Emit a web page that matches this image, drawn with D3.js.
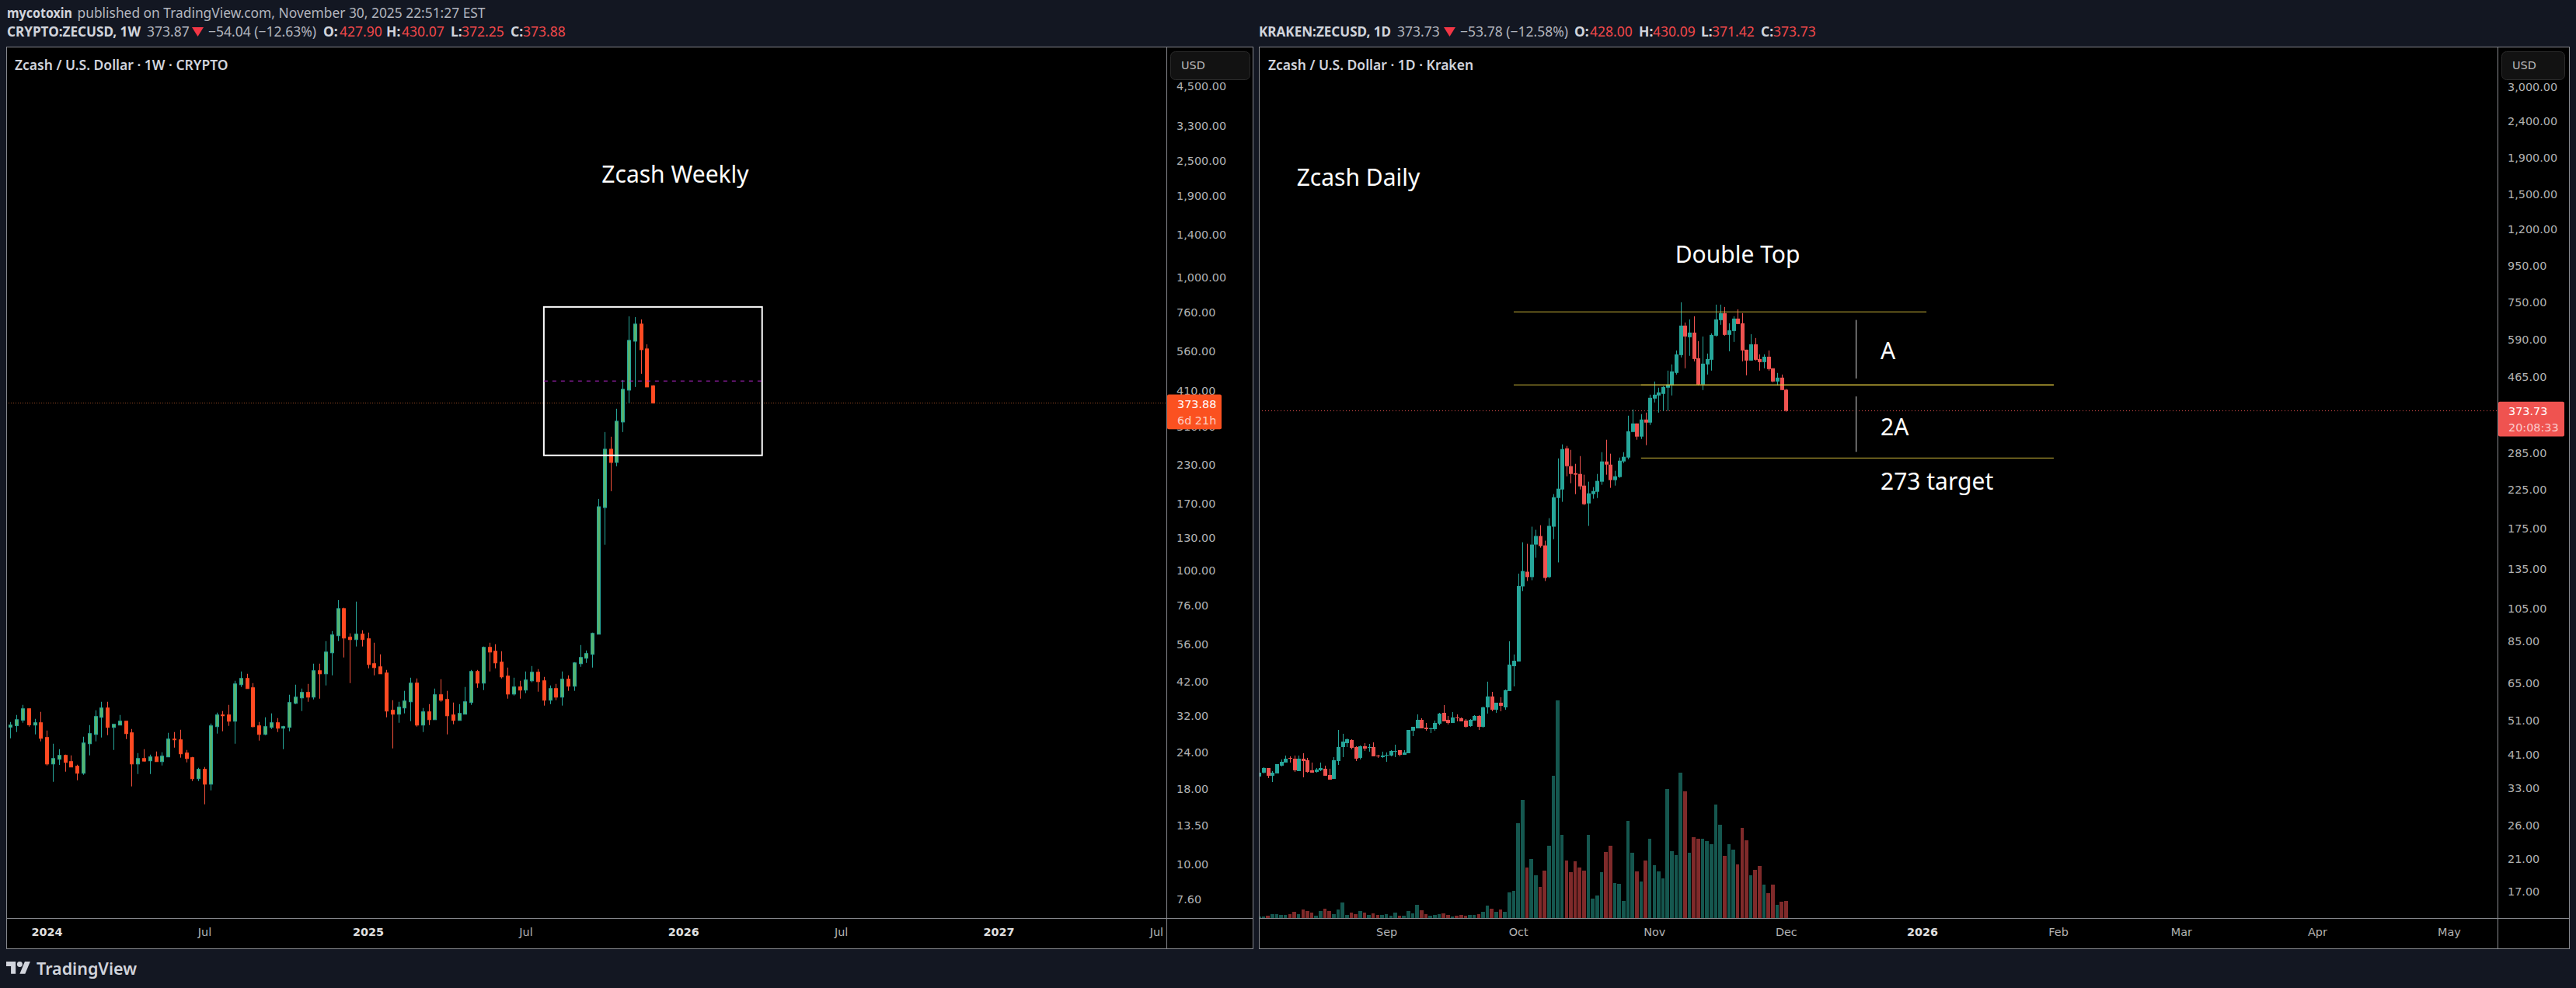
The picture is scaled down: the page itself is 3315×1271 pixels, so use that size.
<!DOCTYPE html>
<html>
<head>
<meta charset="utf-8">
<title>Zcash weekly and daily</title>
<script src="https://cdnjs.cloudflare.com/ajax/libs/d3/7.8.5/d3.min.js"></script>
<style>
  html, body { margin: 0; background: #131722; }
  svg { display: block; }
  text { font-family: "Noto Sans", sans-serif; }
  .axis text { font-family: "DejaVu Sans", sans-serif; font-size: 14.4px; fill: #b2b2b2; }
  .axis .year { font-weight: bold; fill: #e0e0e0; }
</style>
</head>
<body>
<svg id="chart" width="3315" height="1271"></svg>
<script>
// [open, high, low, close], one row per week
const weeklyOhlc = [
  [29.30,30.51,26.84,29.78],[29.66,32.24,28.19,31.07],[30.95,34.90,30.33,33.85],[33.85,33.85,29.42,29.84],
  [29.78,31.27,27.68,30.33],[30.33,33.04,26.20,26.84],[27.01,28.53,21.68,21.94],[21.94,25.72,19.07,22.90],
  [22.76,24.64,21.77,23.47],[23.47,23.61,20.65,22.21],[22.35,23.47,21.42,21.42],[21.55,21.81,19.30,20.40],
  [20.40,27.17,20.15,25.87],[25.72,29.78,23.47,27.85],[27.68,33.45,26.20,31.85],[31.65,35.76,27.01,34.06],
  [34.06,35.76,27.51,29.24],[29.24,29.96,24.49,29.96],[29.78,32.24,29.78,30.70],[30.70,30.70,26.68,27.85],
  [28.02,28.88,18.39,21.94],[21.94,23.90,20.27,22.90],[22.90,24.64,22.35,22.44],[22.49,23.61,20.27,23.19],
  [23.19,24.20,22.35,22.35],[22.35,24.05,21.68,23.33],[23.19,28.02,23.19,26.68],[26.68,28.19,24.94,26.52],
  [26.52,28.70,23.05,23.76],[23.90,24.49,22.21,22.90],[23.05,23.19,19.19,19.54],[19.54,21.29,19.19,21.03],
  [21.03,21.42,15.98,18.72],[18.72,30.14,17.83,29.60],[29.42,32.84,27.85,32.24],[32.24,33.24,28.36,32.04],
  [32.24,34.90,29.60,30.70],[30.70,42.17,25.72,41.15],[40.90,45.37,40.17,42.95],[42.95,44.55,39.67,39.67],
  [39.92,41.40,29.24,29.42],[29.60,30.51,26.36,27.68],[27.68,31.65,27.51,29.42],[29.24,32.64,28.88,30.33],
  [30.33,31.46,28.19,29.06],[29.06,29.60,24.64,29.42],[29.24,37.79,28.36,35.55],[35.33,40.90,35.11,37.09],
  [36.87,39.67,33.24,38.49],[38.49,41.15,35.76,37.09],[37.09,48.24,36.42,45.65],[45.65,48.24,36.64,44.55],
  [44.55,57.57,40.65,52.85],[52.54,62.33,44.00,60.46],[60.09,79.50,57.60,74.35],[74.35,74.90,50.65,59.00],
  [59.37,61.20,41.40,58.30],[58.30,78.55,55.20,60.83],[60.83,62.70,55.20,58.30],[58.65,61.58,46.50,47.93],
  [48.23,56.87,44.00,46.78],[47.06,51.90,44.55,44.55],[44.82,45.93,31.65,33.24],[33.45,36.20,24.79,32.44],
  [32.44,35.76,30.33,34.27],[34.06,38.97,32.64,35.98],[35.76,43.20,30.70,41.40],[41.40,42.95,29.42,29.78],
  [29.78,34.06,28.19,33.04],[33.04,35.11,29.78,31.07],[31.07,39.67,31.07,37.79],[37.79,42.69,35.76,36.20],
  [36.42,38.97,27.68,32.04],[32.24,35.55,29.96,30.89],[30.89,35.11,30.89,32.64],[32.44,40.17,32.44,35.76],
  [35.55,45.93,34.90,45.37],[45.37,45.93,39.90,41.40],[41.40,55.20,39.20,54.83],[54.83,56.87,45.37,52.85],
  [53.20,56.20,46.50,48.53],[48.82,53.20,42.95,43.48],[43.74,46.78,36.65,38.00],[38.00,43.20,37.56,40.17],
  [40.17,42.17,36.65,39.20],[39.20,45.37,38.25,42.43],[42.17,47.35,41.65,45.10],[45.10,46.22,38.72,41.90],
  [42.17,43.48,34.70,36.20],[36.20,40.65,35.11,39.67],[39.67,41.15,36.20,37.09],[37.09,45.37,34.70,42.69],
  [42.69,44.00,38.97,40.41],[40.41,48.82,38.97,48.53],[48.23,55.85,47.06,50.65],[50.35,53.50,48.53,52.23],
  [51.90,61.58,46.78,61.20],[60.80,175.9,60.80,165.4],[164.5,297.5,122.8,260.0],[260.0,286.8,187.0,234.4],
  [234.4,357.3,227.4,324.0],[322.0,447.8,297.5,416.2],[413.6,738.6,372.9,611.3],[607.5,734.0,423.9,694.9],
  [694.9,720.8,470.2,568.1],[571.6,592.9,423.9,423.9],[427.90,430.07,372.25,373.88]
]

// [open, high, low, close], one row per day
const dailyOhlc = [
  [35.59,36.86,35.41,36.49],[36.49,37.79,36.31,37.60],[37.60,37.60,35.24,35.77],[35.77,36.86,34.36,36.49],
  [36.31,38.55,36.31,38.55],[38.17,39.72,37.98,39.13],[38.93,40.73,38.93,39.92],[40.13,40.53,38.93,39.92],
  [39.92,40.73,36.67,37.05],[36.86,40.73,36.86,39.92],[39.92,41.34,35.41,39.33],[39.53,40.13,36.49,36.67],
  [37.05,38.93,36.49,36.49],[36.67,37.60,36.49,37.23],[37.05,38.93,36.86,37.60],[37.42,38.17,35.77,35.77],
  [35.95,37.42,34.89,34.89],[35.06,40.33,35.06,39.53],[39.33,48.03,38.36,43.03],[43.03,46.85,40.33,44.56],
  [44.12,45.46,43.03,45.24],[45.01,45.24,42.39,42.81],[43.03,43.24,39.33,39.92],[40.13,43.46,39.72,43.24],
  [43.24,44.12,41.97,42.60],[42.81,43.90,41.76,43.03],[43.03,44.34,40.53,40.53],[40.73,40.93,40.13,40.53],
  [40.33,41.76,40.13,40.73],[40.73,41.55,39.13,40.93],[40.73,42.18,40.53,41.97],[41.76,43.68,40.33,41.97],
  [42.18,42.18,40.53,40.93],[40.93,42.18,40.93,41.55],[41.34,48.03,41.34,48.03],[47.79,49.00,46.14,49.00],
  [48.51,53.07,48.51,51.25],[51.25,51.77,48.51,48.51],[48.75,50.24,47.79,48.27],[48.27,48.75,47.08,48.51],
  [48.27,51.00,47.79,50.24],[49.99,53.61,49.49,53.34],[53.61,56.35,50.74,50.74],[51.25,52.55,49.74,50.24],
  [50.24,53.88,50.24,52.03],[52.03,53.07,50.74,51.77],[51.77,52.03,50.74,50.74],[51.00,51.51,48.75,49.00],
  [49.24,51.51,49.00,51.25],[51.00,52.81,51.00,52.55],[52.55,52.81,48.03,49.00],[49.00,55.79,48.75,55.52],
  [55.52,65.50,53.34,59.54],[59.54,61.35,54.15,54.69],[54.69,57.21,53.61,57.21],[57.21,59.24,54.15,56.08],
  [55.52,62.28,54.69,62.00],[61.68,84.90,61.68,73.10],[72.35,77.98,63.54,74.92],[74.56,131.2,74.56,121.1],
  [120.8,160.5,117.3,133.4],[132.8,158.9,125.1,128.3],[128.3,177.4,125.7,158.1],[158.1,173.9,145.3,167.1],
  [167.1,179.1,155.0,156.6],[157.3,162.1,125.1,127.6],[128.3,187.4,127.6,178.3],[177.4,218.7,163.7,214.4],
  [213.3,275.2,141.0,226.5],[225.3,301.1,208.1,292.2],[293.6,298.1,245.3,261.8],[261.8,290.7,234.6,249.0],
  [250.3,265.7,218.7,247.8],[249.0,279.3,225.3,229.9],[231.0,247.8,203.9,205.0],[206.0,236.9,178.3,219.8],
  [218.7,228.8,212.3,223.1],[222.0,249.0,213.3,238.1],[236.9,286.4,232.2,269.8],[269.8,310.2,247.8,264.4],
  [264.4,283.6,227.7,239.3],[239.3,254.1,231.0,245.3],[244.1,276.6,242.9,271.1],[269.8,286.4,267.1,278.0],
  [276.6,362.1,273.8,327.7],[326.1,376.9,326.1,344.5],[344.5,344.5,310.2,316.5],[316.5,365.8,311.7,353.3],
  [353.3,369.4,299.6,346.3],[346.3,414.4,341.1,406.2],[404.2,451.1,394.3,414.4],[412.4,433.5,369.4,420.7],
  [416.5,437.8,373.2,435.6],[433.5,483.8,373.2,442.2],[440.0,503.5,412.4,481.4],[476.6,550.8,471.8,537.2],
  [534.5,750.7,526.6,646.3],[646.3,659.3,491.1,602.6],[599.6,672.6,532.0,617.9],[617.9,686.2,513.5,521.3],
  [524.0,585.0,440.0,442.2],[442.2,602.6,427.0,506.0],[503.5,539.9,471.8,521.3],[518.7,614.8,483.8,608.7],
  [605.6,739.5,602.6,672.6],[669.3,739.5,649.6,700.0],[700.0,728.5,605.6,608.7],[608.7,656.0,548.0,627.1],
  [624.0,686.2,581.9,676.0],[676.0,717.7,652.8,652.8],[656.0,700.0,513.5,550.8],[553.5,553.5,469.5,516.1],
  [516.1,611.6,516.1,573.2],[573.2,596.7,516.1,518.7],[521.3,537.2,483.8,511.0],[511.0,537.2,491.1,529.1],
  [529.1,550.8,483.8,488.6],[491.1,491.1,448.9,451.1],[451.1,476.6,440.0,462.5],[462.5,471.8,427.0,427.0],
  [428.00,430.09,371.42,373.73]
]

// thousand ZEC, relative height of the volume bars, same days as dailyOhlc
const dailyVolume = [
  2,2,3,5,5,4,4,5,8,5,11,9,7,3,9,12,9,5,11,20,4,7,5,9,7,4,6,4,4,5,
  3,7,3,3,9,6,17,10,5,3,4,5,6,4,2,3,4,3,4,4,5,8,16,12,8,11,8,33,35,122,
  152,65,76,55,40,61,93,183,280,107,74,59,73,65,61,107,25,29,59,85,93,45,44,22,125,84,60,47,74,
  102,68,60,51,166,86,81,187,163,84,104,102,102,99,95,146,120,80,95,88,69,116,100,55,62,67,43,32,43,17,21,22
]

const weeklyPriceTicks = [4500,3300,2500,1900,1400,1000,760,560,410,310,230,170,130,100,76,56,42,32,24,18,13.5,10,7.6]
const dailyPriceTicks = [3000,2400,1900,1500,1200,950,750,590,465,285,225,175,135,105,85,65,51,41,33,26,21,17]
const weeklyTimeTicks = ['2024-01-01','2024-07-01','2025-01-06','2025-07-07','2026-01-05','2026-07-06','2027-01-04','2027-07-05']
const dailyTimeTicks = ['2025-09-01','2025-10-01','2025-11-01','2025-12-01','2026-01-01','2026-02-01','2026-03-01','2026-04-01','2026-05-01']

const weeklyDates = d3.utcMonday.range(new Date('2023-11-20'), new Date('2025-12-02'))
const dailyDates = d3.utcDay.range(new Date('2025-08-03'), new Date('2025-12-02'))

// drawings on the two panes, in chart coordinates
const weeklyBox = { from: '2025-07-28', to: '2026-04-06', top: 795, bottom: 247.8 }
const weeklyMidPrice = 444.3
const dailyLevels = [
  { price: 705.9, from: '2025-09-30', to: '2026-01-02' },
  { price: 441.4, from: '2025-09-30', to: '2026-01-31' },
  { price: 441.4, from: '2025-10-29', to: '2026-01-31' },
  { price: 275.8, from: '2025-10-29', to: '2026-01-31' }
]
const dailyMeasures = [
  { date: '2025-12-17', from: 670, to: 460 },
  { date: '2025-12-17', from: 410, to: 287 }
]

const svg = d3.select('#chart')
const month = d3.utcFormat('%b')
const parse = s => new Date(s)

const timeLabel = d => d.getUTCMonth() === 0 ? String(d.getUTCFullYear()) : month(d)
const priceLabel = d3.format(',.2f')

function drawPane(cfg) {
  const { left, right, axisX, top, axisY, bottom } = cfg

  svg.append('rect')
    .attr('x', left + 0.5).attr('y', top + 0.5)
    .attr('width', right - left).attr('height', bottom - top)
    .attr('fill', '#000').attr('stroke', '#86888d')

  svg.append('clipPath').attr('id', cfg.id)
    .append('rect')
    .attr('x', left + 1).attr('y', top + 1)
    .attr('width', axisX - left - 1).attr('height', axisY - top - 1)

  const plot = svg.append('g').attr('clip-path', `url(#${cfg.id})`)

  // price axis
  const priceAxis = svg.append('g')
    .attr('class', 'axis')
    .attr('transform', `translate(${axisX},0)`)
    .call(d3.axisRight(cfg.y).tickValues(cfg.priceTicks).tickFormat(priceLabel).tickSize(0).tickPadding(13))
  priceAxis.select('.domain').remove()

  // time axis
  const timeAxis = svg.append('g')
    .attr('class', 'axis')
    .attr('transform', `translate(0,${axisY + 13})`)
    .call(d3.axisBottom(cfg.x).tickValues(cfg.timeTicks.map(parse)).tickFormat(timeLabel).tickSize(0).tickPadding(0))
  timeAxis.select('.domain').remove()
  timeAxis.selectAll('text')
    .classed('year', d => d.getUTCMonth() === 0)

  svg.append('line')
    .attr('x1', axisX + 0.5).attr('x2', axisX + 0.5)
    .attr('y1', top).attr('y2', bottom)
    .attr('stroke', '#86888d')
  svg.append('line')
    .attr('x1', left).attr('x2', right)
    .attr('y1', axisY + 0.5).attr('y2', axisY + 0.5)
    .attr('stroke', '#86888d')

  return plot
}

function drawCandles(plot, dates, rows, x, y, style) {
  const candle = plot.append('g')
    .selectAll('g')
    .data(rows)
    .join('g')
  const cx = (d, i) => Math.round(x(dates[i]))
  const up = d => d[3] >= d[0]

  candle.append('line')
    .attr('x1', (d, i) => cx(d, i) + 0.5)
    .attr('x2', (d, i) => cx(d, i) + 0.5)
    .attr('y1', d => y(d[1]))
    .attr('y2', d => y(d[2]))
    .attr('stroke', d => up(d) ? style.upWick : style.downWick)

  candle.append('rect')
    .attr('x', (d, i) => cx(d, i) - style.inset)
    .attr('width', style.width)
    .attr('y', d => y(Math.max(d[0], d[3])))
    .attr('height', d => Math.max(1, Math.abs(y(d[0]) - y(d[3]))))
    .attr('fill', d => up(d) ? style.upFill : style.downFill)
    .attr('stroke', d => up(d) ? style.upBorder : style.downBorder)
    .attr('stroke-width', style.border)
}

function priceFlag(cfg) {
  const h = 44.7
  svg.append('rect')
    .attr('x', cfg.axisX + 1).attr('y', cfg.flagY)
    .attr('width', cfg.flagWidth).attr('height', h)
    .attr('rx', 2)
    .attr('fill', cfg.flagColor)
  svg.append('text')
    .attr('class', 'flag')
    .attr('x', cfg.axisX + 14).attr('y', cfg.flagY + 17.5)
    .attr('font-size', 14.4).attr('fill', '#fff')
    .style('font-family', '"DejaVu Sans", sans-serif')
    .text(cfg.flagPrice)
  svg.append('text')
    .attr('x', cfg.axisX + 14).attr('y', cfg.flagY + 38)
    .attr('font-size', 14.4).attr('fill', '#fff').attr('fill-opacity', 0.72)
    .style('font-family', '"DejaVu Sans", sans-serif')
    .text(cfg.flagTimer)

  // USD button
  svg.append('rect')
    .attr('x', cfg.usdX + 0.5).attr('y', 66.5)
    .attr('width', cfg.usdWidth).attr('height', 36)
    .attr('rx', 6)
    .attr('fill', '#121212').attr('stroke', '#2a2a2a')
  svg.append('text')
    .attr('x', cfg.usdX + 14).attr('y', 89)
    .attr('font-size', 14.4).attr('fill', '#b8b8b8')
    .style('font-family', '"DejaVu Sans", sans-serif')
    .text('USD')
}

// ---- left pane, weekly
const weeklyPane = {
  id: 'clip-weekly', left: 8, right: 1612, axisX: 1501, top: 60, axisY: 1181, bottom: 1220,
  x: d3.scaleUtc().domain([weeklyDates[0], weeklyDates[weeklyDates.length - 1]]).range([13.3, 840.3]),
  y: d3.scaleLog().domain([6143, 6.54]).range([60, 1181]),
  priceTicks: weeklyPriceTicks, timeTicks: weeklyTimeTicks,
  flagY: 507.6, flagWidth: 70, flagColor: '#fb5120', flagPrice: '373.88', flagTimer: '6d 21h',
  usdX: 1506, usdWidth: 102
}
const weeklyPlot = drawPane(weeklyPane)

weeklyPlot.append('line')
  .attr('x1', 8).attr('x2', weeklyPane.axisX)
  .attr('y1', weeklyPane.y(373.88)).attr('y2', weeklyPane.y(373.88))
  .attr('stroke', '#c8622f').attr('stroke-opacity', 0.75).attr('stroke-dasharray', '1 2')

drawCandles(weeklyPlot, weeklyDates, weeklyOhlc, weeklyPane.x, weeklyPane.y, {
  width: 4, inset: 1.5, border: 1,
  upFill: '#57b46e', upBorder: '#26a69a', upWick: '#26a69a',
  downFill: '#ff4a22', downBorder: '#ff4a22', downWick: '#f4503a'
})

weeklyPlot.append('rect')
  .attr('x', weeklyPane.x(parse(weeklyBox.from)))
  .attr('y', weeklyPane.y(weeklyBox.top))
  .attr('width', weeklyPane.x(parse(weeklyBox.to)) - weeklyPane.x(parse(weeklyBox.from)))
  .attr('height', weeklyPane.y(weeklyBox.bottom) - weeklyPane.y(weeklyBox.top))
  .attr('fill', 'none').attr('stroke', '#fff').attr('stroke-width', 2)

weeklyPlot.append('line')
  .attr('x1', weeklyPane.x(parse(weeklyBox.from)))
  .attr('x2', weeklyPane.x(parse(weeklyBox.to)))
  .attr('y1', weeklyPane.y(weeklyMidPrice)).attr('y2', weeklyPane.y(weeklyMidPrice))
  .attr('stroke', '#b026c8').attr('stroke-dasharray', '5 6')

svg.append('text')
  .attr('x', 869).attr('y', 235).attr('text-anchor', 'middle')
  .attr('font-size', 30).attr('fill', '#fff')
  .text('Zcash Weekly')

priceFlag(weeklyPane)

// ---- right pane, daily
const dailyPane = {
  id: 'clip-daily', left: 1620, right: 3306, axisX: 3214, top: 60, axisY: 1181, bottom: 1220,
  x: d3.scaleUtc().domain([dailyDates[0], dailyDates[dailyDates.length - 1]]).range([1620.3, 2298.3]),
  y: d3.scaleLog().domain([3884, 14.33]).range([60, 1181]),
  priceTicks: dailyPriceTicks, timeTicks: dailyTimeTicks,
  flagY: 516.7, flagWidth: 85, flagColor: '#ef5350', flagPrice: '373.73', flagTimer: '20:08:33',
  usdX: 3219, usdWidth: 81
}
const dailyPlot = drawPane(dailyPane)

const volumeY = d3.scaleLinear().domain([0, 280]).range([1181, 901])
dailyPlot.append('g')
  .selectAll('rect')
  .data(dailyVolume)
  .join('rect')
  .attr('x', (d, i) => Math.round(dailyPane.x(dailyDates[i]) - 2.3))
  .attr('width', (d, i) => Math.round(dailyPane.x(dailyDates[i]) + 2.3) - Math.round(dailyPane.x(dailyDates[i]) - 2.3))
  .attr('y', d => volumeY(d))
  .attr('height', d => volumeY(0) - volumeY(d))
  .attr('fill', (d, i) => dailyOhlc[i][3] >= dailyOhlc[i][0] ? '#15574f' : '#7f2a2a')

dailyPlot.append('line')
  .attr('x1', 1620).attr('x2', dailyPane.axisX)
  .attr('y1', dailyPane.y(373.73)).attr('y2', dailyPane.y(373.73))
  .attr('stroke', '#ef5350').attr('stroke-dasharray', '1 3')

drawCandles(dailyPlot, dailyDates, dailyOhlc, dailyPane.x, dailyPane.y, {
  width: 5, inset: 2, border: 0,
  upFill: '#26a69a', upBorder: 'none', upWick: '#26a69a',
  downFill: '#ef5350', downBorder: 'none', downWick: '#ef5350'
})

dailyPlot.append('g')
  .selectAll('line')
  .data(dailyLevels)
  .join('line')
  .attr('x1', d => dailyPane.x(parse(d.from)))
  .attr('x2', d => dailyPane.x(parse(d.to)))
  .attr('y1', d => dailyPane.y(d.price))
  .attr('y2', d => dailyPane.y(d.price))
  .attr('stroke', '#e0c840').attr('stroke-opacity', 0.85)

dailyPlot.append('g')
  .selectAll('line')
  .data(dailyMeasures)
  .join('line')
  .attr('x1', d => dailyPane.x(parse(d.date)))
  .attr('x2', d => dailyPane.x(parse(d.date)))
  .attr('y1', d => dailyPane.y(d.from))
  .attr('y2', d => dailyPane.y(d.to))
  .attr('stroke', '#d8d8d8')

const notes = [
  ['Zcash Daily', 1748, 239, 'middle'],
  ['Double Top', 2236, 338, 'middle'],
  ['A', 2420, 462, 'start'],
  ['2A', 2420, 560, 'start'],
  ['273 target', 2420, 630, 'start']
]
svg.append('g')
  .selectAll('text')
  .data(notes)
  .join('text')
  .attr('x', d => d[1]).attr('y', d => d[2])
  .attr('text-anchor', d => d[3])
  .attr('font-size', 30).attr('fill', '#fff')
  .text(d => d[0])

priceFlag(dailyPane)

// ---- header lines and pane titles
function label(x, y, str, color, weight, len) {
  const t = svg.append('text')
    .attr('x', x).attr('y', y)
    .attr('font-size', 17.5)
    .attr('fill', color)
    .attr('font-weight', weight || 'normal')
    .text(str)
  if (len) t.attr('textLength', len).attr('lengthAdjust', 'spacingAndGlyphs')
}

const light = '#d1d4dc'
const muted = '#b2b5be'
const red = '#f0484a'

function legendRow(parts) {
  parts.forEach(p => label(p[0], 47, p[1], p[2], p[3], p[4]))
}

label(9, 23, 'mycotoxin', light, 'bold', 84)
label(99.5, 23, 'published on TradingView.com, November 30, 2025 22:51:27 EST', muted, 'normal', 525)

legendRow([
  [9, 'CRYPTO:ZECUSD, 1W', light, 'bold', 172], [189, '373.87', muted],
  [268, '\u221254.04 (\u221212.63%)', muted],
  [416, 'O:', light, 'bold'], [437, '427.90', red],
  [497, 'H:', light, 'bold'], [517, '430.07', red],
  [580, 'L:', light, 'bold'], [594, '372.25', red],
  [657, 'C:', light, 'bold'], [673, '373.88', red]
])
legendRow([
  [1620, 'KRAKEN:ZECUSD, 1D', light, 'bold', 170], [1798, '373.73', muted],
  [1879, '\u221253.78 (\u221212.58%)', muted],
  [2026, 'O:', light, 'bold'], [2046, '428.00', red],
  [2109, 'H:', light, 'bold'], [2127, '430.09', red],
  [2189, 'L:', light, 'bold'], [2203, '371.42', red],
  [2266, 'C:', light, 'bold'], [2282, '373.73', red]
])

const arrow = d3.line()
;[247, 1858].forEach(x => {
  svg.append('path')
    .attr('d', arrow([[x, 35], [x + 15, 35], [x + 7.5, 47]]) + 'Z')
    .attr('fill', '#f23645')
})

label(19, 90, 'Zcash / U.S. Dollar \u00b7 1W \u00b7 CRYPTO', light, 600)
label(1632, 90, 'Zcash / U.S. Dollar \u00b7 1D \u00b7 Kraken', light, 600)

// TradingView mark
const logo = svg.append('g')
  .attr('transform', 'translate(8,1233.5) scale(0.87)')
  .attr('fill', '#d1d4dc')
logo.append('path').attr('d', 'M14 22H7V11H0V4h14v18zM28 22h-8l7.5-18h8L28 22z')
logo.append('circle').attr('cx', 20).attr('cy', 8).attr('r', 4)

svg.append('text')
  .attr('x', 47).attr('y', 1254)
  .attr('font-size', 21.5).attr('font-weight', 600)
  .attr('fill', '#d1d4dc')
  .text('TradingView')
</script>
</body>
</html>
